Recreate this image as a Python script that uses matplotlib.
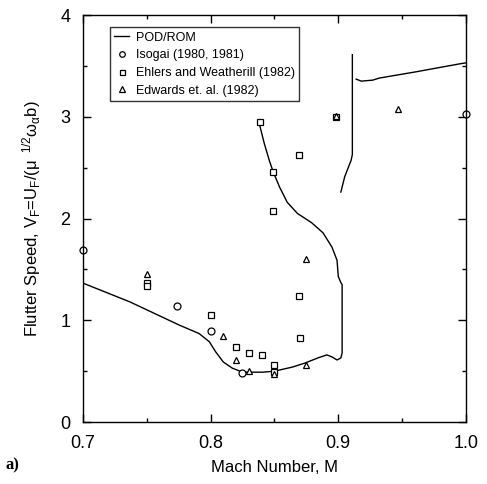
import matplotlib
matplotlib.use('Agg')
import matplotlib.pyplot as plt
from matplotlib.ticker import MultipleLocator

plt.rcParams['font.family'] = ['Liberation Sans', 'DejaVu Sans']
plt.rcParams['mathtext.fontset'] = 'custom'
plt.rcParams['mathtext.rm'] = 'Liberation Sans'
plt.rcParams['mathtext.it'] = 'Liberation Sans'

# POD/ROM curve, three pieces (Mach, flutter speed)
rom1_m = [0.700, 0.737, 0.776, 0.791, 0.799, 0.804, 0.810, 0.817, 0.825, 0.841, 0.850,
          0.864, 0.874, 0.884, 0.891, 0.895, 0.899, 0.902, 0.903, 0.903, 0.902, 0.900,
          0.899, 0.895, 0.888, 0.879, 0.868, 0.860, 0.854, 0.849, 0.846, 0.842, 0.838]
rom1_v = [1.366, 1.18, 0.95, 0.87, 0.79, 0.69, 0.59, 0.53, 0.49, 0.49, 0.50,
          0.54, 0.58, 0.63, 0.66, 0.64, 0.61, 0.63, 0.68, 1.35, 1.37, 1.43,
          1.59, 1.72, 1.86, 1.96, 2.05, 2.16, 2.31, 2.46, 2.57, 2.74, 2.94]
rom2_m = [0.902, 0.905, 0.909, 0.910, 0.911, 0.911, 0.911]
rom2_v = [2.26, 2.41, 2.54, 2.57, 2.63, 2.66, 3.61]
rom3_m = [0.914, 0.918, 0.927, 0.932, 0.960, 0.995, 1.000]
rom3_v = [3.37, 3.35, 3.36, 3.38, 3.44, 3.52, 3.53]

isogai_m = [0.700, 0.774, 0.800, 0.825, 1.000]
isogai_v = [1.69, 1.14, 0.89, 0.48, 3.03]

ehlers_m = [0.750, 0.750, 0.800, 0.820, 0.830, 0.840, 0.839, 0.869, 0.849, 0.849,
            0.869, 0.870, 0.850, 0.850, 0.898]
ehlers_v = [1.37, 1.34, 1.05, 0.74, 0.68, 0.66, 2.95, 2.62, 2.46, 2.07,
            1.24, 0.83, 0.56, 0.49, 3.00]

edwards_m = [0.750, 0.810, 0.820, 0.830, 0.875, 0.875, 0.850, 0.898, 0.947]
edwards_v = [1.45, 0.85, 0.61, 0.50, 1.60, 0.56, 0.47, 3.01, 3.08]

fig = plt.figure(figsize=(4.87, 4.84), dpi=100)
ax = fig.add_axes([0.170, 0.128, 0.787, 0.841])

ax.plot(rom1_m, rom1_v, color='black', lw=1.0, label='POD/ROM')
ax.plot(rom2_m, rom2_v, color='black', lw=1.0)
ax.plot(rom3_m, rom3_v, color='black', lw=1.0)
ax.plot(isogai_m, isogai_v, 'o', mfc='white', mec='black', ms=5, mew=0.9,
        label='Isogai (1980, 1981)', clip_on=False)
ax.plot(ehlers_m, ehlers_v, 's', mfc='white', mec='black', ms=4.5, mew=0.9,
        label='Ehlers and Weatherill (1982)')
ax.plot(edwards_m, edwards_v, '^', mfc='white', mec='black', ms=5, mew=0.9,
        label='Edwards et. al. (1982)')

ax.set_xlim(0.7, 1.0)
ax.set_ylim(0, 4)
ax.xaxis.set_major_locator(MultipleLocator(0.1))
ax.xaxis.set_minor_locator(MultipleLocator(0.05))
ax.yaxis.set_major_locator(MultipleLocator(1))
ax.yaxis.set_minor_locator(MultipleLocator(0.5))
ax.xaxis.set_major_formatter(plt.FuncFormatter(lambda v, p: '%.1f' % v))
ax.tick_params(which='both', direction='in', top=True, right=True, labelsize=13, width=1)
ax.tick_params(which='major', length=6, pad=9)
ax.tick_params(which='minor', length=3)
for s in ax.spines.values():
    s.set_linewidth(1.0)

ax.set_xlabel('Mach Number, M', fontsize=12, labelpad=6)
ax.set_ylabel(r'Flutter Speed, V$_F$=U$_F$/($\mu^{\ \ 1/2}\omega_\alpha$b)', fontsize=12,
              labelpad=12)

leg = ax.legend(loc='upper left', bbox_to_anchor=(0.055, 0.985), fontsize=9,
                frameon=True, fancybox=False, edgecolor='black', handlelength=1.2,
                borderpad=0.35, labelspacing=0.45, handletextpad=0.5, markerscale=0.8)
leg.get_frame().set_linewidth(1.0)

fig.text(0.012, 0.03, 'a)', fontsize=12, fontweight='bold', family='Liberation Serif')

fig.savefig('out.png', dpi=100)
